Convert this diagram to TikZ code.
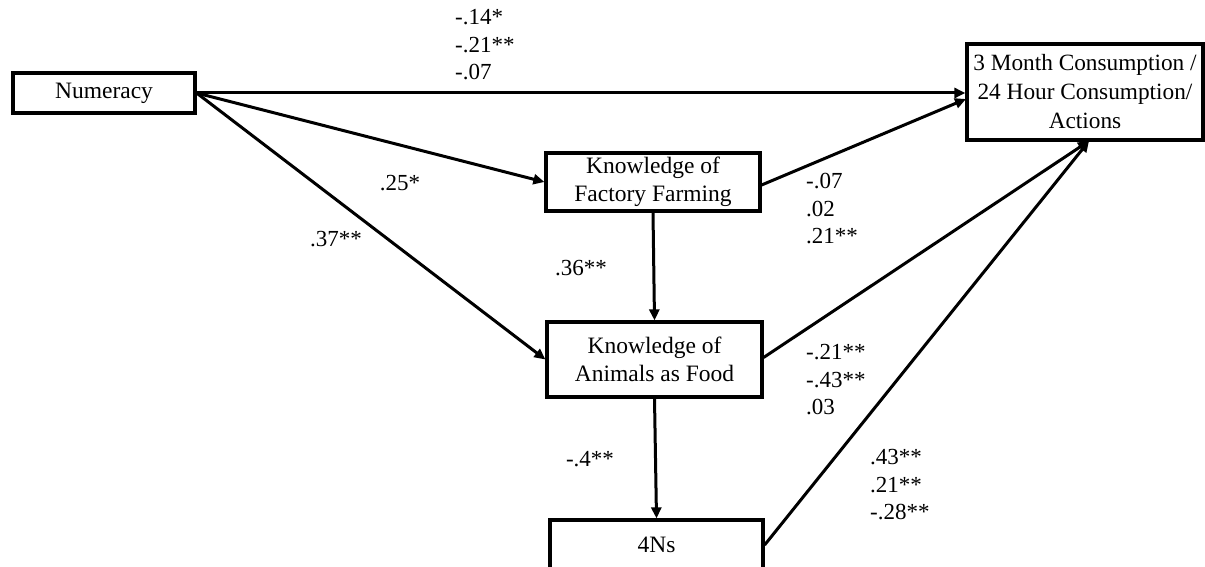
\documentclass[tikz,border=0pt]{standalone}
\usepackage{fontspec}
\setmainfont{Liberation Serif}
\usetikzlibrary{arrows.meta}
\begin{document}
\begin{tikzpicture}[x=1pt,y=-1pt,
  box/.style={draw,line width=3.2pt,align=center,inner sep=0pt,font=\fontsize{23.5}{28}\selectfont},
  arr/.style={line width=3pt,-{Triangle[length=11pt,width=10pt]}},
  lab/.style={inner sep=0pt,align=left,font=\fontsize{23}{27.5}\selectfont}]
\useasboundingbox (0,0) rectangle (1205,567);
\clip (0,0) rectangle (1205,567);
\node[box,minimum width=236pt,minimum height=96pt,font=\fontsize{23.3}{29}\selectfont] (out) at (1085,92) {3 Month Consumption /\\24 Hour Consumption/\\Actions};
\node[box,minimum width=182pt,minimum height=40pt] (num) at (104,93) {Numeracy};
\node[box,minimum width=214pt,minimum height=58pt] (ff) at (653,182) {Knowledge of\\Factory Farming};
\node[box,minimum width=215pt,minimum height=75pt] (af) at (654.5,359.5) {Knowledge of\\Animals as Food};
\node[box,minimum width=213pt,minimum height=50pt] (ns) at (656.5,545) {4Ns};
\coordinate (conv) at (1089,141);
\coordinate (ffend) at (966,99);
\draw[arr] (num.east) -- (out.west |- num.east);
\draw[arr] (num.east) -- (ff.west);
\draw[arr] (num.east) -- (af.west);
\draw[arr] (ff.south) -- (af.north);
\draw[arr] (af.south) -- (ns.north);
\draw[arr] (ff.east) ++(0,3) -- (ffend);
\draw[arr] (af.east) ++(0,-2) -- (conv);
\draw[arr] (ns.east) -- (conv);
\node[lab,anchor=west] (l1) at (455,45) {-.14*\\-.21**\\-.07};
\node[lab] (l2) at (400,183) {.25*};
\node[lab] (l3) at (336,239) {.37**};
\node[lab] (l4) at (581,268) {.36**};
\node[lab] (l5) at (590,459) {-.4**};
\node[lab,anchor=west] (l6) at (806,209) {-.07\\.02\\.21**};
\node[lab,anchor=west] (l7) at (806,380) {-.21**\\-.43**\\.03};
\node[lab,anchor=west] (l8) at (870,485) {.43**\\.21**\\-.28**};
\end{tikzpicture}
\end{document}
